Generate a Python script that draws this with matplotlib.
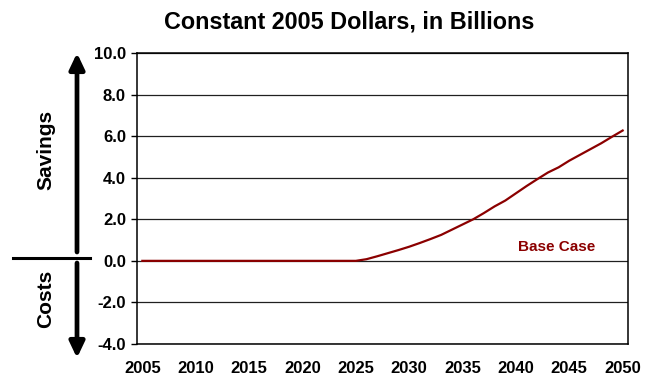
import numpy as np
import matplotlib.pyplot as plt

years = np.arange(2005, 2051)
base_case = [0.0] * 21 + [0.08, 0.22, 0.37, 0.52, 0.68, 0.86, 1.05, 1.25, 1.50,
                          1.75, 2.00, 2.30, 2.62, 2.90, 3.25, 3.60, 3.93, 4.25,
                          4.50, 4.82, 5.10, 5.38, 5.66, 5.97, 6.27]
xticks = np.arange(2005, 2051, 5)
yticks = np.arange(-4, 10.1, 2)

plt.rcParams['font.family'] = ['Liberation Sans', 'DejaVu Sans']
plt.rcParams['font.weight'] = 'bold'

fig = plt.figure(figsize=(6.49, 3.79), dpi=100)
ax = fig.add_axes([137 / 649, 35 / 379, 491 / 649, 291 / 379])

ax.plot(years, base_case, color='#8B0000', lw=1.6)
ax.set_xlim(2004.5, 2050.5)
ax.set_ylim(-4, 10)
ax.set_xticks(xticks)
ax.set_yticks(yticks)
ax.set_yticklabels([f'{v:.1f}' for v in yticks], fontsize=12, fontweight='bold')
ax.set_xticklabels([str(v) for v in xticks], fontsize=12, fontweight='bold')
ax.tick_params(axis='x', length=0, pad=12)
ax.tick_params(axis='y', length=4, width=1, pad=4)
ax.yaxis.grid(True, color='#202020', lw=0.9)
ax.set_axisbelow(True)
for s in ax.spines.values():
    s.set_linewidth(1.1)

ax.text(2043.8, 0.67, 'Base Case', color='#8B0000', fontsize=11,
        fontweight='bold', ha='center', va='center')

fig.text(349 / 649, 1 - 22 / 379, 'Constant 2005 Dollars, in Billions',
         fontsize=16.8, fontweight='bold', ha='center', va='center')

# savings / costs arrows on the left
arrow = dict(arrowstyle='-|>,head_width=0.45,head_length=0.95', lw=3.4,
             color='black', mutation_scale=10, shrinkA=0, shrinkB=0)
ax.annotate('', xy=(77, 326), xytext=(77, 127), xycoords='figure pixels',
            textcoords='figure pixels', arrowprops=arrow)
ax.annotate('', xy=(77, 21), xytext=(77, 116), xycoords='figure pixels',
            textcoords='figure pixels', arrowprops=arrow)
fig.add_artist(plt.Line2D([13 / 649, 90 / 649], [121 / 379, 121 / 379],
                          color='black', lw=2.2))
fig.text(46 / 649, 1 - 150 / 379, 'Savings', rotation=90, fontsize=15,
         fontweight='bold', ha='center', va='center')
fig.text(46 / 649, 1 - 299 / 379, 'Costs', rotation=90, fontsize=15,
         fontweight='bold', ha='center', va='center')

plt.savefig('out.png', dpi=100)
